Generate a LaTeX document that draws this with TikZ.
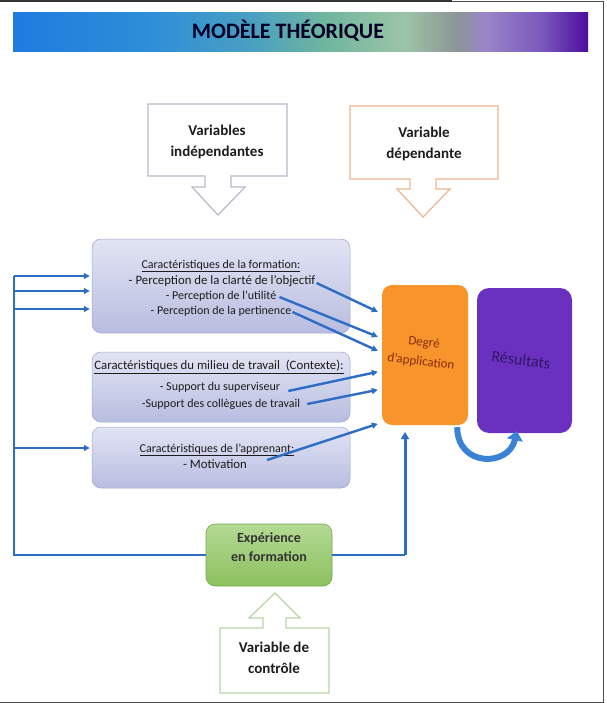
\documentclass[tikz,border=0pt]{standalone}
\usepackage{fontspec}
\setmainfont{Carlito}
\usetikzlibrary{calc,arrows.meta,shadings}
\definecolor{bA}{HTML}{1F7BE0}
\definecolor{bB}{HTML}{2F8ED8}
\definecolor{bC}{HTML}{4AA0C0}
\definecolor{bD}{HTML}{6FB59E}
\definecolor{bE}{HTML}{9CC4A8}
\definecolor{bF}{HTML}{8E9696}
\definecolor{bG}{HTML}{9A86C8}
\definecolor{bH}{HTML}{7A58BC}
\definecolor{bI}{HTML}{4E0E9E}
\definecolor{arrblue}{HTML}{2E6DC6}
\definecolor{curvblue}{HTML}{3A82D6}
\definecolor{lavtop}{HTML}{E2E4F4}
\definecolor{lavbot}{HTML}{B8BDE0}
\definecolor{lavedge}{HTML}{A2A7CC}
\definecolor{orfill}{HTML}{F7952C}
\definecolor{ortext}{HTML}{8A2C12}
\definecolor{pufill}{HTML}{6A30C0}
\definecolor{putext}{HTML}{321864}
\definecolor{grtop}{HTML}{B4DA94}
\definecolor{grbot}{HTML}{8CC05E}
\definecolor{gredge}{HTML}{78A84E}
\definecolor{greyline}{HTML}{B6BAC8}
\definecolor{orline}{HTML}{F2B48C}
\definecolor{gnline}{HTML}{B8D4A6}
\definecolor{txt}{HTML}{1C1C1C}
\pgfdeclarehorizontalshading{bannershade}{100bp}{color(0bp)=(bA); color(25bp)=(bA); color(37bp)=(bB); color(46bp)=(bC); color(52bp)=(bD); color(59bp)=(bE); color(63.5bp)=(bF); color(66bp)=(bG); color(71bp)=(bH); color(75bp)=(bI); color(100bp)=(bI)}
\tikzset{
  ttl/.style={font=\fontsize{22}{24}\selectfont\bfseries, text=black!85!blue},
  calltext/.style={font=\fontsize{15}{21}\selectfont\bfseries, text=txt, align=center},
  lav/.style={rounded corners=9pt, top color=lavtop, bottom color=lavbot, draw=lavedge, line width=0.5pt},
  bt/.style={font=\fontsize{12}{14}\selectfont, text=txt, inner sep=0pt},
  btw/.style={font=\fontsize{12.8}{14}\selectfont, text=txt, inner sep=0pt},
  conn/.style={draw=arrblue, line width=2.4pt, -{Triangle[length=6pt,width=6pt]}},
  fb/.style={draw=arrblue, line width=2pt},
  degbox/.style={rounded corners=10pt, fill=orfill},
  resbox/.style={rounded corners=12pt, fill=pufill},
  expbox/.style={rounded corners=9pt, top color=grtop, bottom color=grbot, draw=gredge, line width=0.6pt},
  rottext/.style={rotate=-7, inner sep=0pt},
}
\begin{document}
\begin{tikzpicture}[x=1pt,y=-1pt]
\useasboundingbox (0,0) rectangle (606,703);
\fill[white] (0,0) rectangle (606,703);
% frame
\draw[black!80, line width=2pt] (0,1) -- (452,1);
\draw[black!70, line width=1pt] (452,2) -- (603,2) -- (603,702) -- (0,702);
% banner
\shade[shading=bannershade] (13,13) rectangle (588,52);
\node[ttl] (title) at (288,31) {MODÈLE THÉORIQUE};
% top callouts
\draw[greyline, line width=1.2pt] (148,104) -- (287,104) -- (287,176) -- (231,176) -- (231,187) -- (245,187) -- (218,215) -- (192,187) -- (205,187) -- (205,176) -- (148,176) -- cycle;
\node[calltext] (vi) at (217,142) {Variables\\indépendantes};
\draw[orline, line width=1.2pt] (350,106) -- (498,106) -- (498,179) -- (436,179) -- (436,189) -- (450,189) -- (423,217) -- (397,189) -- (410,189) -- (410,179) -- (350,179) -- cycle;
\node[calltext] (vd) at (424,144) {Variable\\dépendante};
% lavender boxes
\node[lav, minimum width=258pt, minimum height=94pt] (f) at (221,286) {};
\node[lav, minimum width=258pt, minimum height=70pt] (mt) at (221,387) {};
\node[lav, minimum width=258pt, minimum height=61pt] (ap) at (221,457.5) {};
\node[bt] (ft) at (221,266) {\underline{Caractéristiques de la formation:}};
\node[btw] (l1) at (222,281) {- Perception de la clarté de l'objectif};
\node[bt] (l2) at (221,296) {- Perception de l'utilité};
\node[bt] (l3) at (221,311) {- Perception de la pertinence};
\node[btw] (mtt) at (219,367) {\underline{Caractéristiques du milieu de travail~~(Contexte):}};
\node[bt] (s1) at (220,387) {- Support du superviseur};
\node[bt] (s2) at (221,404) {-Support des collègues de travail};
\node[bt] (apt) at (217,450) {\underline{Caractéristiques de l'apprenant:}};
\node[btw] (m) at (215,464) {- Motivation};
% outcome boxes
\node[degbox, minimum width=86pt, minimum height=140pt] (deg) at (425,355) {};
\node[rottext, font=\fontsize{13}{15}\selectfont, text=ortext] (degt1) at (424,343) {Degré};
\node[rottext, font=\fontsize{13}{15}\selectfont, text=ortext] (degt2) at (421,362) {d'application};
\node[resbox, minimum width=95pt, minimum height=145pt] (res) at (524.5,360.5) {};
\node[rottext, font=\fontsize{16}{18}\selectfont, text=putext] (rest) at (521,360) {Résultats};
% connectors to Degré
\draw[conn] ([xshift=1pt,yshift=-2pt]l1.east) -- ($(deg.north west)+(-4,27)$);
\draw[conn] ([xshift=3pt,yshift=-1pt]l2.east) -- ($(deg.north west)+(-4,52)$);
\draw[conn] ([xshift=1pt,yshift=-1pt]l3.east) -- ($(deg.north west)+(-4,66)$);
\draw[conn] ([xshift=8pt,yshift=-4pt]s1.east) -- ($(deg.north west)+(-4,87)$);
\draw[conn] ([xshift=7pt]s2.east) -- ($(deg.north west)+(-4,105)$);
\draw[conn] ([xshift=20pt,yshift=4pt]m.east) -- ($(deg.north west)+(-4,139)$);
% curved arrow
\coordinate (cs) at ($(deg.south east)+(-11,2)$);
\coordinate (ce) at ($(res.south west)+(40,-2)$);
\draw[curvblue, line width=6pt, -{Triangle[length=9pt,width=16pt]}] (cs) .. controls ($(cs)+(0,40)$) and ($(ce)+(-8,36)$) .. (ce);
% experience
\node[expbox, minimum width=126pt, minimum height=62pt] (exp) at (269,555) {};
\node[font=\fontsize{14}{19}\selectfont\bfseries, text=black!80, align=center] (expt) at (269,547) {Expérience\\en formation};
% feedback lines
\coordinate (lt) at (14,276);
\coordinate (lb2) at (14,291);
\coordinate (lb3) at (14,309);
\coordinate (lb4) at (14,448);
\draw[fb] (lt) -- (lt |- exp.west) -- (exp.west);
\draw[conn, shorten >=2pt] (lt) -- (lt -| f.west);
\draw[conn, shorten >=2pt] (lb2) -- (lb2 -| f.west);
\draw[conn, shorten >=2pt] (lb3) -- (lb3 -| f.west);
\draw[conn, shorten >=2pt] (lb4) -- (lb4 -| ap.west);
\coordinate (upx) at (405,432);
\draw[fb] (exp.east) -- (exp.east -| upx);
\draw[draw=arrblue, line width=3pt, -{Triangle[length=7pt,width=8pt]}] (exp.east -| upx) -- (upx);
% control callout
\draw[gnline, line width=1.2pt] (220,628) -- (263,628) -- (263,618) -- (249,618) -- (275,593) -- (300,618) -- (286,618) -- (286,628) -- (329,628) -- (329,693) -- (220,693) -- cycle;
\node[calltext] (vc) at (274,658) {Variable de\\contrôle};
\end{tikzpicture}
\end{document}
